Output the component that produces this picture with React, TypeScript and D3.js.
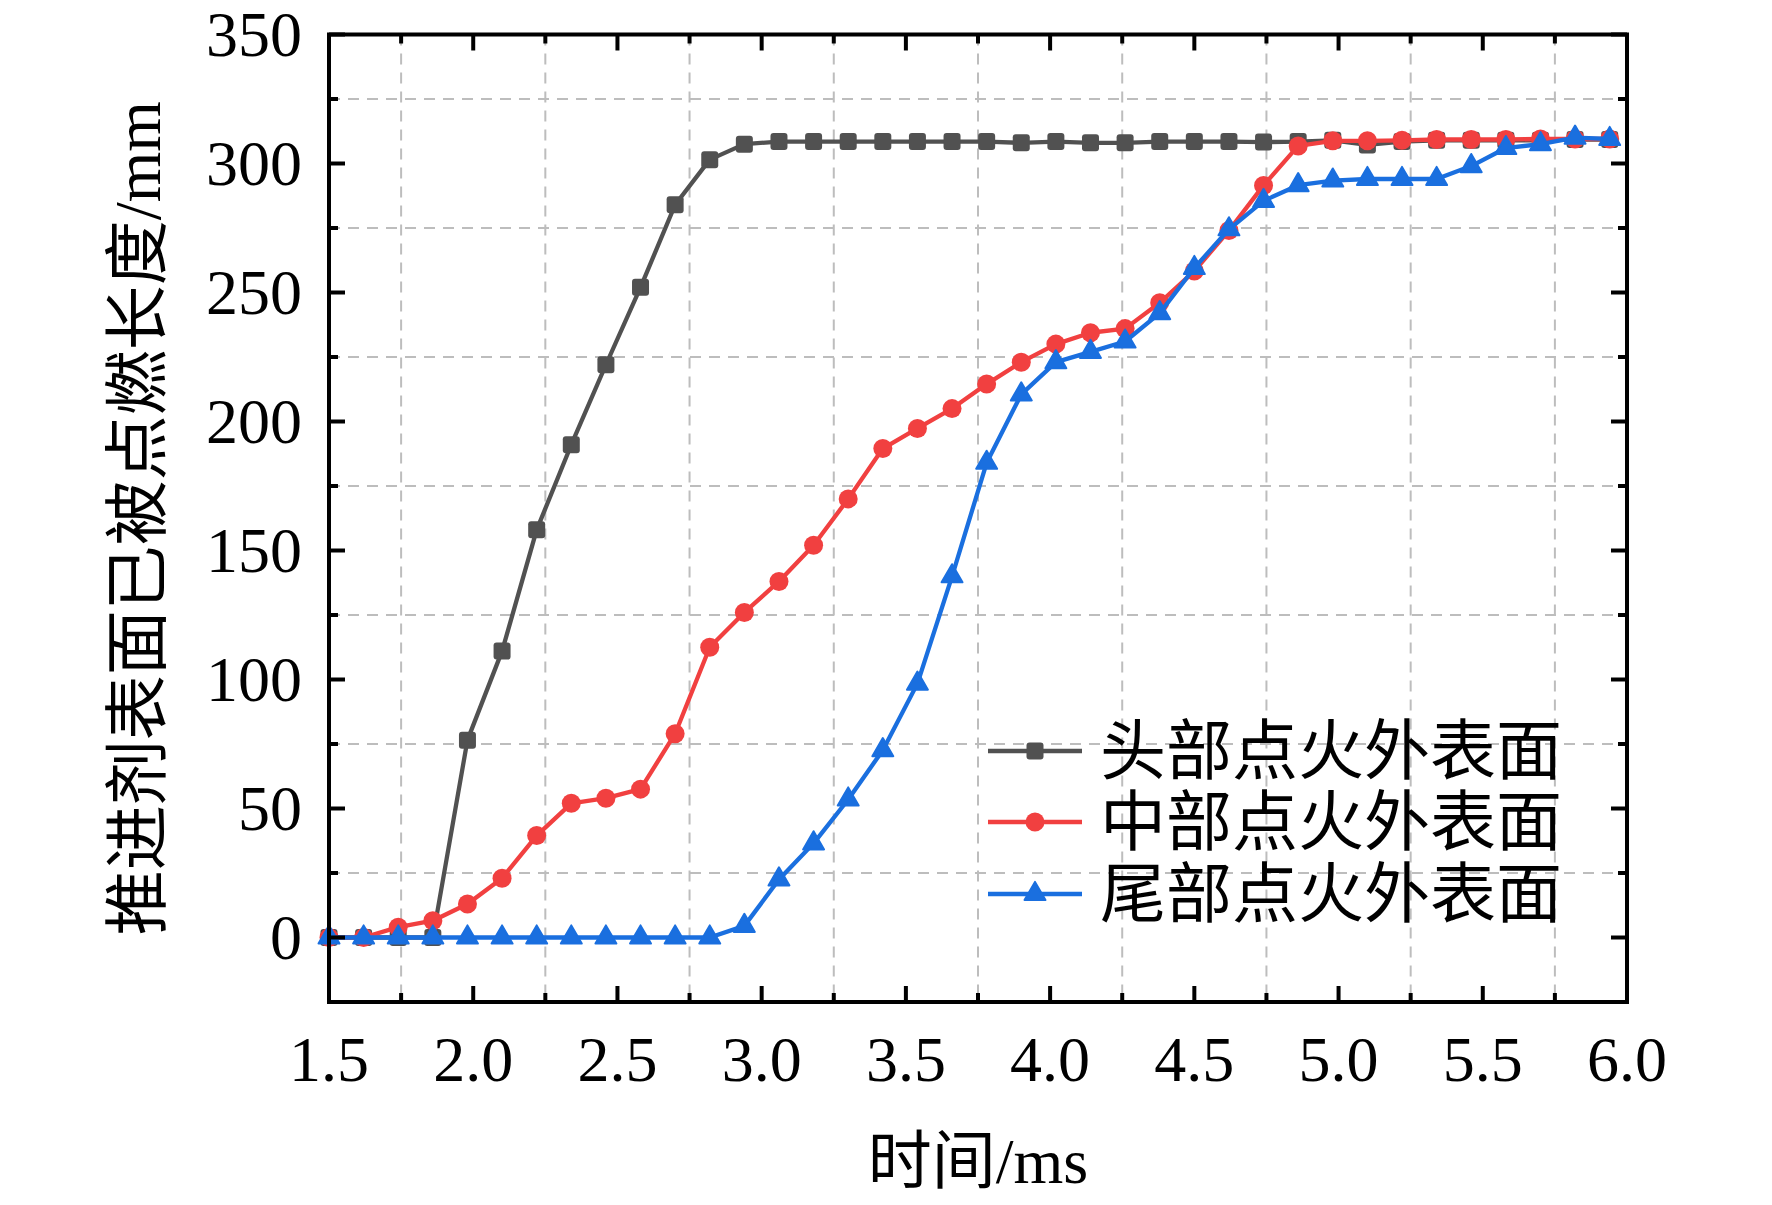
import * as d3 from "d3";

const timeMs = [
  1.5, 1.62, 1.74, 1.86, 1.98, 2.1, 2.22, 2.34, 2.46, 2.58, 2.7, 2.82, 2.94,
  3.06, 3.18, 3.3, 3.42, 3.54, 3.66, 3.78, 3.9, 4.02, 4.14, 4.26, 4.38, 4.5,
  4.62, 4.74, 4.86, 4.98, 5.1, 5.22, 5.34, 5.46, 5.58, 5.7, 5.82, 5.94,
];

// 头部点火外表面
const headBurn = [
  0, 0, 0, 0, 76.5, 111, 158, 191, 222, 252, 284, 301.5, 307.5, 308.5, 308.5,
  308.5, 308.5, 308.5, 308.5, 308.5, 308, 308.5, 308, 308, 308.5, 308.5, 308.5,
  308.3, 308.5, 309, 307.2, 308.5, 309, 309, 309, 309, 309.3, 309.3,
];

// 中部点火外表面
const midBurn = [
  0, 0, 4, 6.5, 13, 23, 39.5, 52, 54, 57.5, 79, 112.5, 126, 138, 152, 170, 189.5,
  197.3, 205, 214.5, 223, 230, 234.4, 236, 246, 258.3, 274, 291.5, 306.8, 308.8,
  308.8, 309, 309.3, 309.3, 309.3, 309.5, 309.5, 309.5,
];

// 尾部点火外表面
const tailBurn = [
  0, 0, 0, 0, 0, 0, 0, 0, 0, 0, 0, 0, 4.5, 22.5, 36.5, 53.5, 72.6, 98.4, 140,
  184, 210.5, 223, 227, 231, 242, 259.5, 274.5, 285.5, 291.6, 293.4, 294, 294,
  294, 299, 306, 307.5, 310, 309.5,
];

const seriesNames = ["头部点火外表面", "中部点火外表面", "尾部点火外表面"];
const seriesColors = ["#515151", "#F14040", "#1A6FDF"];
const seriesValues = [headBurn, midBurn, tailBurn];

const xMajorTicks = [1.5, 2.0, 2.5, 3.0, 3.5, 4.0, 4.5, 5.0, 5.5, 6.0];
const xMinorTicks = [1.75, 2.25, 2.75, 3.25, 3.75, 4.25, 4.75, 5.25, 5.75];
const yMajorTicks = [0, 50, 100, 150, 200, 250, 300, 350];
const yMinorTicks = [-25, 25, 75, 125, 175, 225, 275, 325];

const W = 1772;
const H = 1205;
const left = 329;
const right = 1627;
const top = 34.5;
const bottom = 1002;

const latin = "'Liberation Serif', 'Times New Roman', serif";
const cjk = "'Liberation Serif', 'Noto Sans CJK SC', serif";

function Marker({ kind, cx, cy, color }) {
  if (kind === 0) {
    return <rect x={cx - 8.5} y={cy - 8.5} width={17} height={17} rx={3} fill={color} />;
  }
  if (kind === 1) {
    return <circle cx={cx} cy={cy} r={9.5} fill={color} />;
  }
  const tri = d3.symbol().type(d3.symbolTriangle).size(190)();
  return <path d={tri} transform={`translate(${cx},${cy})`} fill={color} strokeLinejoin="round" stroke={color} strokeWidth={2} />;
}

export default function App() {
  const x = d3.scaleLinear().domain([1.5, 6.0]).range([left, right]);
  const y = d3.scaleLinear().domain([-25, 350]).range([bottom, top]);

  const line = d3
    .line<number>()
    .x((_, i) => x(timeMs[i]))
    .y((d) => y(d));

  const legendX1 = 988;
  const legendX2 = 1082;
  const legendRows = [751, 822, 894];

  return (
    <div style={{ position: "absolute", left: 0, top: 0 }}>
      <svg width={W} height={H} style={{ display: "block", background: "#fff" }}>
        {/* grid at minor positions */}
        <g stroke="#bdbdbd" strokeWidth={2} strokeDasharray="11,8">
          {xMinorTicks.map((t) => (
            <line key={"gx" + t} x1={x(t)} x2={x(t)} y1={top} y2={bottom} />
          ))}
          {yMinorTicks
            .filter((t) => t > -25)
            .map((t) => (
              <line key={"gy" + t} x1={left} x2={right} y1={y(t)} y2={y(t)} />
            ))}
        </g>

        {/* series */}
        {seriesValues.map((vals, s) => (
          <g key={"s" + s}>
            <path d={line(vals) ?? ""} fill="none" stroke={seriesColors[s]} strokeWidth={4.3} strokeLinejoin="round" />
            {vals.map((v, i) => (
              <Marker key={i} kind={s} cx={x(timeMs[i])} cy={y(v)} color={seriesColors[s]} />
            ))}
          </g>
        ))}

        {/* ticks, inward on all four sides */}
        <g stroke="#000" strokeWidth={4}>
          {xMajorTicks.map((t) => (
            <g key={"xt" + t}>
              <line x1={x(t)} x2={x(t)} y1={bottom} y2={bottom - 16} />
              <line x1={x(t)} x2={x(t)} y1={top} y2={top + 16} />
            </g>
          ))}
          {xMinorTicks.map((t) => (
            <g key={"xm" + t}>
              <line x1={x(t)} x2={x(t)} y1={bottom} y2={bottom - 9} />
              <line x1={x(t)} x2={x(t)} y1={top} y2={top + 9} />
            </g>
          ))}
          {yMajorTicks.map((t) => (
            <g key={"yt" + t}>
              <line x1={left} x2={left + 16} y1={y(t)} y2={y(t)} />
              <line x1={right} x2={right - 16} y1={y(t)} y2={y(t)} />
            </g>
          ))}
          {yMinorTicks.map((t) => (
            <g key={"ym" + t}>
              <line x1={left} x2={left + 9} y1={y(t)} y2={y(t)} />
              <line x1={right} x2={right - 9} y1={y(t)} y2={y(t)} />
            </g>
          ))}
        </g>

        {/* frame */}
        <rect x={left} y={top} width={right - left} height={bottom - top} fill="none" stroke="#000" strokeWidth={4} />

        {/* tick labels */}
        <g fontFamily={latin} fontSize={64} fill="#000">
          {xMajorTicks.map((t) => (
            <text key={"xl" + t} x={x(t)} y={1081} textAnchor="middle">
              {t.toFixed(1)}
            </text>
          ))}
          {yMajorTicks.map((t) => (
            <text key={"yl" + t} x={302} y={y(t) + 21} textAnchor="end">
              {t}
            </text>
          ))}
        </g>

        {/* axis titles */}
        <text x={(left + right) / 2} y={1161} textAnchor="middle" dominantBaseline="central" fontFamily={cjk} fontSize={64}>
          时间/ms
        </text>
        <text
          transform={`translate(138,${(top + bottom) / 2}) rotate(-90)`}
          textAnchor="middle"
          dominantBaseline="central"
          fontFamily={cjk}
          fontSize={65}
        >
          推进剂表面已被点燃长度/mm
        </text>

        {/* legend */}
        {seriesNames.map((name, s) => (
          <g key={"lg" + s}>
            <line x1={legendX1} x2={legendX2} y1={legendRows[s]} y2={legendRows[s]} stroke={seriesColors[s]} strokeWidth={4.3} />
            <Marker kind={s} cx={(legendX1 + legendX2) / 2} cy={legendRows[s]} color={seriesColors[s]} />
            <text x={1100} y={legendRows[s]} dominantBaseline="central" fontFamily={cjk} fontSize={66} fill="#000">
              {name}
            </text>
          </g>
        ))}
      </svg>
    </div>
  );
}
